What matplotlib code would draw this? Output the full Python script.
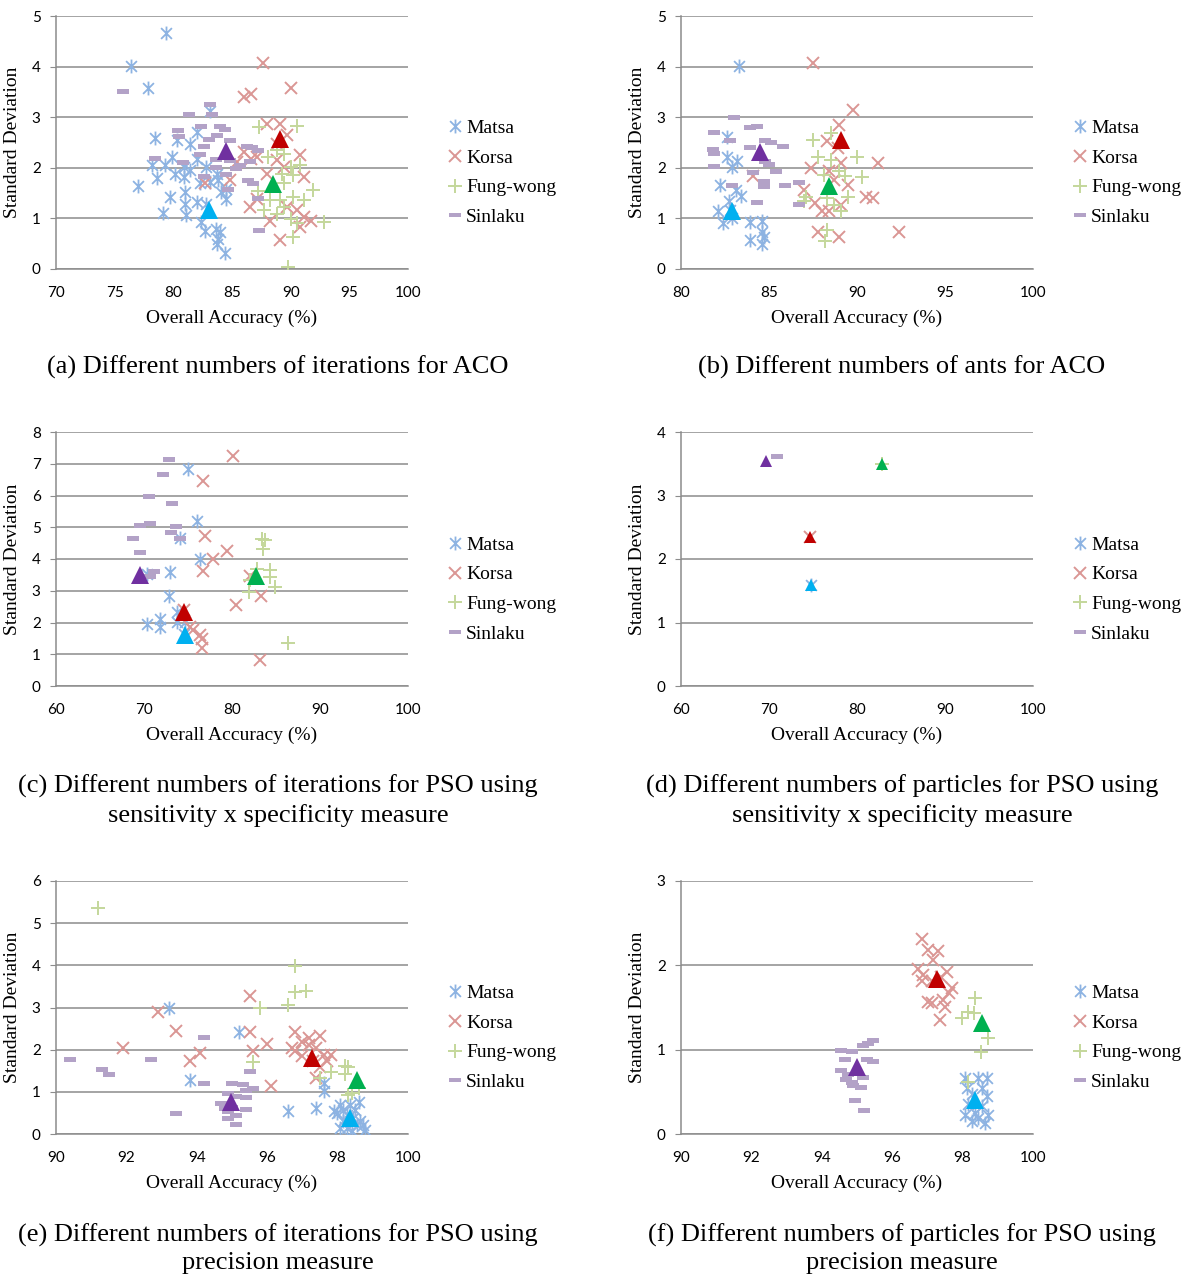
import matplotlib
matplotlib.use("Agg")
import matplotlib.pyplot as plt
from matplotlib.path import Path
from matplotlib.lines import Line2D

# ---- data: (overall accuracy, standard deviation) per run -----------------

# (a) iterations for ACO
a_matsa = [(79.4, 4.66), (76.4, 4.02), (77.8, 3.58), (83.1, 3.13), (78.4, 2.59), (82.0, 2.70),
           (81.4, 2.48), (80.3, 2.54), (79.9, 2.21), (82.0, 2.18), (78.2, 2.05), (79.3, 2.05),
           (80.9, 2.02), (82.8, 2.02), (80.1, 1.88), (81.4, 1.95), (83.7, 1.88), (78.6, 1.79),
           (77.0, 1.65), (80.9, 1.82), (82.3, 1.69), (83.8, 1.75), (84.5, 1.59), (79.7, 1.42),
           (81.0, 1.53), (82.0, 1.32), (82.8, 1.29), (84.5, 1.39), (79.1, 1.11), (81.1, 1.06),
           (81.0, 1.29), (82.4, 0.93), (83.6, 0.80), (84.0, 0.74), (82.7, 0.76), (83.8, 0.60),
           (83.7, 0.50), (84.4, 0.32), (84.1, 1.52), (83.1, 1.72)]
a_korsa = [(87.6, 4.08), (90.0, 3.58), (86.0, 3.39), (86.6, 3.45), (88.0, 2.87), (89.1, 2.87),
           (89.7, 2.64), (86.0, 2.31), (90.8, 2.25), (85.4, 2.11), (86.6, 2.18), (88.8, 2.15),
           (89.4, 2.02), (88.0, 1.88), (91.1, 1.82), (84.8, 1.75), (82.7, 1.69), (87.1, 1.39),
           (86.5, 1.23), (89.7, 1.23), (90.5, 1.16), (91.1, 1.03), (91.7, 0.94), (88.2, 0.94),
           (90.8, 0.83), (89.1, 0.57), (88.8, 2.48), (87.1, 2.21)]
a_fungwong = [(87.3, 2.81), (90.5, 2.82), (88.8, 2.35), (89.4, 2.28), (88.1, 2.21), (90.0, 2.02),
              (90.8, 2.05), (89.3, 1.88), (90.2, 1.86), (87.2, 1.55), (91.9, 1.57), (89.4, 1.69),
              (88.2, 1.36), (89.1, 1.36), (90.2, 1.43), (91.1, 1.36), (87.7, 1.16), (88.8, 1.09),
              (90.0, 0.99), (90.5, 0.90), (92.8, 0.93), (90.2, 0.64), (89.8, 0.03), (89.4, 1.23)]
a_sinlaku = [(75.7, 3.51), (83.1, 3.27), (83.3, 3.06), (81.3, 3.07), (80.4, 2.74), (82.4, 2.82),
             (84.0, 2.82), (84.4, 2.76), (80.5, 2.62), (83.7, 2.64), (83.0, 2.56), (84.8, 2.54),
             (82.6, 2.44), (86.3, 2.44), (86.7, 2.42), (87.2, 2.36), (82.3, 2.28), (78.4, 2.19),
             (80.8, 2.11), (83.6, 2.18), (84.8, 2.15), (86.5, 2.13), (85.7, 2.05), (83.6, 2.02),
             (82.6, 1.84), (84.5, 1.88), (86.4, 1.75), (86.8, 1.70), (84.7, 1.59), (87.2, 1.40),
             (87.3, 0.78), (85.3, 1.99)]
a_means = [(83.0, 1.16), (89.1, 2.56), (88.5, 1.67), (84.5, 2.33)]

# (b) ants for ACO
b_matsa = [(83.3, 4.02), (82.6, 2.60), (82.6, 2.22), (83.2, 2.13), (82.9, 2.01), (82.2, 1.66),
           (83.1, 1.57), (83.4, 1.45), (82.7, 1.34), (82.1, 1.14), (82.4, 0.91), (82.9, 1.01),
           (83.9, 0.93), (84.6, 0.94), (84.6, 0.74), (84.7, 0.64), (83.9, 0.58), (84.6, 0.49),
           (82.8, 1.17)]
b_korsa = [(87.5, 4.07), (89.8, 3.14), (89.0, 2.85), (88.3, 2.52), (88.9, 2.39), (91.2, 2.09),
           (87.4, 1.99), (89.1, 2.09), (88.4, 1.93), (89.5, 1.66), (84.1, 1.83), (87.0, 1.57),
           (88.7, 1.76), (90.5, 1.43), (90.9, 1.41), (87.6, 1.30), (88.0, 1.14), (88.4, 1.14),
           (89.1, 1.27), (87.8, 0.74), (89.0, 0.63), (92.4, 0.73)]
b_fungwong = [(87.5, 2.55), (88.5, 2.68), (87.8, 2.22), (88.5, 2.16), (90.0, 2.22), (89.0, 1.93),
              (89.3, 1.83), (90.3, 1.82), (88.1, 1.86), (87.1, 1.43), (87.0, 1.34), (88.3, 1.40),
              (89.5, 1.43), (88.7, 1.27), (89.1, 1.14), (88.3, 0.78), (88.2, 0.55)]
b_sinlaku = [(83.0, 3.00), (81.9, 2.70), (83.9, 2.81), (84.3, 2.83), (82.8, 2.55), (84.8, 2.54),
             (85.1, 2.51), (85.8, 2.43), (81.8, 2.38), (81.9, 2.30), (83.9, 2.42), (84.8, 2.14),
             (85.0, 2.08), (81.9, 2.03), (85.4, 1.93), (84.1, 1.91), (84.7, 1.74), (84.7, 1.65),
             (82.9, 1.66), (85.9, 1.66), (86.7, 1.71), (84.3, 1.32), (86.7, 1.28)]
b_means = [(82.9, 1.14), (89.1, 2.54), (88.4, 1.65), (84.5, 2.32)]

# (c) iterations for PSO, sensitivity x specificity
c_matsa = [(75.0, 6.84), (76.0, 5.19), (74.1, 4.66), (76.4, 4.01), (72.9, 3.58), (70.3, 3.54),
           (72.8, 2.83), (73.7, 2.33), (70.3, 1.96), (71.8, 2.12), (71.8, 1.86), (73.7, 2.01),
           (74.7, 2.01), (74.5, 1.65)]
c_korsa = [(80.1, 7.24), (76.7, 6.45), (76.9, 4.71), (79.4, 4.25), (77.8, 4.01), (76.7, 3.62),
           (83.3, 2.83), (80.4, 2.54), (82.0, 3.46), (74.5, 2.38), (75.2, 1.86), (76.4, 1.60),
           (76.6, 1.49), (76.6, 1.21), (83.2, 0.81), (75.6, 1.75)]
c_fungwong = [(83.4, 4.64), (83.8, 4.61), (83.5, 4.33), (84.3, 3.64), (84.3, 3.43), (84.9, 3.12),
              (82.8, 3.69), (81.9, 2.96), (86.4, 1.37), (82.0, 3.33)]
c_sinlaku = [(72.8, 7.16), (72.2, 6.68), (70.6, 5.99), (73.2, 5.77), (69.5, 5.07), (70.7, 5.13),
             (73.6, 5.03), (73.1, 4.84), (68.7, 4.67), (74.1, 4.67), (69.6, 4.21), (71.1, 3.62),
             (70.7, 3.45)]
c_means = [(74.7, 1.60), (74.5, 2.33), (82.7, 3.48), (69.6, 3.50)]

# (d) particles for PSO, sensitivity x specificity
d_matsa = [(74.8, 1.59)]
d_korsa = [(74.7, 2.35)]
d_fungwong = [(82.8, 3.50)]
d_sinlaku = [(70.9, 3.62)]
d_means = [(74.8, 1.59), (74.7, 2.35), (82.8, 3.50), (69.7, 3.55)]

# (e) iterations for PSO, precision
e_matsa = [(93.2, 2.98), (95.2, 2.41), (93.8, 1.29), (96.6, 0.55), (97.4, 0.62), (97.6, 1.21),
           (97.6, 1.01), (98.6, 0.77), (97.9, 0.54), (98.07, 0.69), (98.16, 0.58), (98.26, 0.46),
           (98.35, 0.30), (98.45, 0.38), (98.54, 0.22), (98.73, 0.22), (98.16, 0.30), (98.26, 0.14),
           (98.64, 0.30), (97.97, 0.50), (98.5, 0.58), (98.35, 0.69), (98.07, 0.14), (98.78, 0.10),
           (98.4, 0.06)]
e_korsa = [(92.9, 2.90), (95.5, 3.28), (93.4, 2.44), (91.9, 2.05), (94.1, 1.93), (93.8, 1.74),
           (95.5, 2.43), (96.0, 2.14), (95.6, 1.96), (96.1, 1.15), (96.8, 2.41), (97.5, 2.33),
           (97.0, 2.19), (97.2, 2.11), (96.8, 1.96), (97.4, 2.03), (97.6, 1.88), (97.8, 1.88),
           (97.0, 1.84), (97.3, 1.72), (97.5, 1.60), (97.7, 1.72), (97.4, 1.32), (97.2, 2.27),
           (96.7, 2.03)]
e_fungwong = [(91.2, 5.37), (96.8, 3.98), (96.8, 3.36), (97.1, 3.38), (96.6, 3.06), (95.8, 2.98),
              (95.6, 1.70), (97.8, 1.48), (98.2, 1.62), (98.3, 1.58), (98.2, 1.42), (97.5, 1.32),
              (98.6, 1.10), (98.4, 0.97), (98.3, 0.93)]
e_sinlaku = [(90.4, 1.78), (92.7, 1.78), (91.3, 1.55), (91.5, 1.43), (94.2, 2.29), (94.2, 1.22),
             (93.4, 0.50), (95.5, 1.50), (95.0, 1.21), (95.3, 1.18), (95.4, 1.05), (95.6, 1.09),
             (95.4, 0.88), (94.7, 0.73), (94.9, 0.97), (95.1, 0.89), (95.4, 0.59), (94.9, 0.54),
             (95.1, 0.46), (94.9, 0.38), (95.1, 0.24), (95.0, 0.65), (94.8, 0.62)]
e_means = [(98.35, 0.38), (97.26, 1.81), (98.56, 1.29), (94.96, 0.76)]

# (f) particles for PSO, precision
f_matsa = [(98.07, 0.66), (98.45, 0.66), (98.68, 0.66), (98.12, 0.54), (98.54, 0.54), (98.26, 0.47),
           (98.68, 0.45), (98.16, 0.35), (98.54, 0.33), (98.35, 0.25), (98.73, 0.23), (98.26, 0.15),
           (98.64, 0.13), (98.45, 0.19), (98.07, 0.23)]
f_korsa = [(96.84, 2.31), (97.03, 2.18), (97.31, 2.17), (97.17, 2.06), (96.74, 1.96), (96.88, 1.88),
           (97.55, 1.92), (96.84, 1.81), (97.12, 1.81), (97.4, 1.86), (97.69, 1.73), (97.6, 1.67),
           (97.03, 1.57), (97.45, 1.59), (97.5, 1.51), (97.36, 1.35), (97.12, 1.55)]
f_fungwong = [(98.35, 1.61), (98.16, 1.45), (98.32, 1.43), (97.99, 1.37), (98.71, 1.14),
              (98.52, 0.97), (98.16, 0.62)]
f_sinlaku = [(95.46, 1.12), (95.32, 1.08), (95.18, 1.06), (94.54, 1.00), (94.85, 0.98), (94.66, 0.89),
             (95.27, 0.89), (95.46, 0.86), (94.54, 0.76), (94.75, 0.71), (95.18, 0.67), (94.85, 0.62),
             (94.9, 0.58), (95.1, 0.56), (94.94, 0.40), (95.21, 0.29), (94.7, 0.65)]
f_means = [(98.35, 0.40), (97.26, 1.84), (98.56, 1.32), (94.99, 0.80)]

series_names = ["Matsa", "Korsa", "Fung-wong", "Sinlaku"]

captions = ["(a) Different numbers of iterations for ACO",
            "(b) Different numbers of ants for ACO",
            "(c) Different numbers of iterations for PSO using\nsensitivity x specificity measure",
            "(d) Different numbers of particles for PSO using\nsensitivity x specificity measure",
            "(e) Different numbers of iterations for PSO using\nprecision measure",
            "(f) Different numbers of particles for PSO using\nprecision measure"]

x_limits = [(70, 100), (80, 100), (60, 100), (60, 100), (90, 100), (90, 100)]
x_steps = [5, 5, 10, 10, 2, 2]
y_maxes = [5, 5, 8, 4, 6, 3]

# ---- styling ---------------------------------------------------------------

star = Path([(0, -1), (0, 1), (-0.78, -0.78), (0.78, 0.78), (-0.78, 0.78), (0.78, -0.78)],
            [Path.MOVETO, Path.LINETO, Path.MOVETO, Path.LINETO, Path.MOVETO, Path.LINETO])
dash = Path([(-1, -0.4), (1, -0.4), (1, 0.4), (-1, 0.4), (-1, -0.4)],
            [Path.MOVETO, Path.LINETO, Path.LINETO, Path.LINETO, Path.CLOSEPOLY])

pt_colors = ["#8DB3E2", "#DA9694", "#C4D79B", "#B3A2C7"]
mean_colors = ["#00B0F0", "#C00000", "#00B050", "#7030A0"]
grey = "#8C8C8C"
serif = "Liberation Serif"
sans = "Lato"


def draw_points(ax, pts, k):
    xs = [p[0] for p in pts]
    ys = [p[1] for p in pts]
    if k == 0:
        ax.plot(xs, ys, ls="none", marker=star, ms=10, mew=1.3, mec=pt_colors[0], mfc="none", zorder=3)
    elif k == 1:
        ax.plot(xs, ys, ls="none", marker="x", ms=9, mew=1.4, mec=pt_colors[1], zorder=3)
    elif k == 2:
        ax.plot(xs, ys, ls="none", marker="+", ms=10, mew=1.4, mec=pt_colors[2], zorder=3)
    else:
        ax.plot(xs, ys, ls="none", marker=dash, ms=9, mew=0, mfc=pt_colors[3], zorder=3)


def legend_handles():
    h = [Line2D([], [], ls="none", marker=star, ms=10, mew=1.3, mec=pt_colors[0], mfc="none"),
         Line2D([], [], ls="none", marker="x", ms=9, mew=1.4, mec=pt_colors[1]),
         Line2D([], [], ls="none", marker="+", ms=10, mew=1.4, mec=pt_colors[2]),
         Line2D([], [], ls="none", marker=dash, ms=8, mew=0, mfc=pt_colors[3])]
    return h


fig = plt.figure(figsize=(11.83, 12.82), dpi=100)

panels = [
    (a_matsa, a_korsa, a_fungwong, a_sinlaku, a_means),
    (b_matsa, b_korsa, b_fungwong, b_sinlaku, b_means),
    (c_matsa, c_korsa, c_fungwong, c_sinlaku, c_means),
    (d_matsa, d_korsa, d_fungwong, d_sinlaku, d_means),
    (e_matsa, e_korsa, e_fungwong, e_sinlaku, e_means),
    (f_matsa, f_korsa, f_fungwong, f_sinlaku, f_means),
]

W, H = 1183.0, 1282.0
lefts = [56, 681]
tops = [16, 432, 881]
bottoms = [269, 686, 1134]
cap_y = [367, 801, 1249]
cap_x = [278, 902]

for i, panel in enumerate(panels):
    row, col = i // 2, i % 2
    l = lefts[col] / W
    b = 1 - bottoms[row] / H
    h = (bottoms[row] - tops[row]) / H
    ax = fig.add_axes([l, b, 352 / W, h])

    for k in range(4):
        draw_points(ax, panel[k], k)
    tri_size = 9 if i == 3 else 13
    for k, (mx, my) in enumerate(panel[4]):
        ax.plot([mx], [my], ls="none", marker="^", ms=tri_size, mew=0, mfc=mean_colors[k], zorder=5)

    x0, x1 = x_limits[i]
    ax.set_xlim(x0, x1)
    ax.set_ylim(0, y_maxes[i])
    ax.set_xticks(range(x0, x1 + 1, x_steps[i]))
    ax.set_yticks(range(0, y_maxes[i] + 1))
    ax.yaxis.grid(True, color=grey, lw=1.1)
    ax.set_axisbelow(True)
    for s in ["top", "right"]:
        ax.spines[s].set_visible(False)
    for s in ["left", "bottom"]:
        ax.spines[s].set_color(grey)
        ax.spines[s].set_linewidth(1.1)
    ax.tick_params(axis="x", length=0, pad=12, labelsize=11)
    ax.tick_params(axis="y", length=4, color=grey, pad=7, labelsize=11)
    for t in ax.get_xticklabels() + ax.get_yticklabels():
        t.set_fontfamily(sans)

    ax.set_xlabel("Overall Accuracy (%)", fontfamily=serif, fontsize=14, labelpad=7)
    ax.set_ylabel("Standard Deviation", fontfamily=serif, fontsize=14, labelpad=8)

    ax.legend(legend_handles(), series_names, loc="center left", bbox_to_anchor=(1.09, 0.38),
              frameon=False, prop={"family": serif, "size": 14}, handlelength=0.6,
              handletextpad=0.25, labelspacing=0.62, borderpad=0)

    fig.text(cap_x[col] / W, 1 - cap_y[row] / H, captions[i], ha="center", va="center",
             fontfamily=serif, fontsize=19, linespacing=1.32)

fig.savefig("out.png", dpi=100)
